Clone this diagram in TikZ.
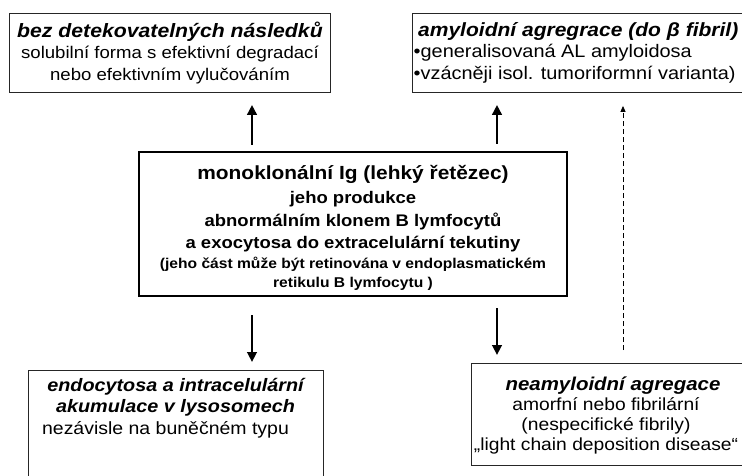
\documentclass[tikz,border=0pt]{standalone}
\usepackage{fontspec}
\setmainfont{Liberation Sans}[FakeStretch=1.1]
\usetikzlibrary{arrows.meta}
\newcommand{\ttlfont}[1]{\fontsize{#1}{20}\selectfont\bfseries\itshape}
\begin{document}
\begin{tikzpicture}[x=1pt,y=-1pt,
  box/.style={draw=black!85, line width=0.9pt, inner sep=0pt},
  arr/.style={line width=2.6pt, -{Triangle[length=10pt,width=9.5pt]}},
  dasharr/.style={line width=0.8pt, dash pattern=on 5pt off 3pt, -{Triangle[length=6pt,width=5pt]}}]
\clip (0,0) rectangle (742,475);
\useasboundingbox (0,0) rectangle (742,475);
% top left
\node[box, minimum width=321pt, minimum height=79pt, anchor=north west, align=center,
  font=\fontsize{16.9}{21.5}\selectfont] (b1) at (9,13)
  {{\ttlfont{19.3}bez detekovatelných následků}\\
   solubilní forma s efektivní degradací\\ nebo efektivním vylučováním};
% top right
\node[box, minimum width=335pt, minimum height=79pt, anchor=north west] (b2) at (412,13) {};
\node[anchor=west, align=left, inner sep=0pt, font=\fontsize{18.1}{21.5}\selectfont] (t2) at (413.5,52.5)
  {\hspace*{4.5pt}{\ttlfont{19.1}amyloidní agregrace (do β fibril)}\\
   •generalisovaná AL amyloidosa\\ •vzácněji isol. tumoriformní varianta)};
% centre
\node[draw, line width=2.8pt, minimum width=428pt, minimum height=144pt, inner sep=0pt] (mc) at (353,224) {};
\node[align=center, inner sep=0pt, font=\bfseries\fontsize{16}{19}\selectfont] (mct) at ([yshift=-4pt]mc.center)
  {{\fontsize{19}{19}\selectfont monoklonální Ig (lehký řetězec)}\\[5pt]
   {\fontsize{16.8}{19}\selectfont jeho produkce}\\[4pt]
   {\fontsize{16.8}{19}\selectfont abnormálním klonem B lymfocytů}\\[3pt]
   {\fontsize{16.8}{19}\selectfont a exocytosa do extracelulární tekutiny}\\[1.5pt]
   {\fontsize{14.2}{19}\selectfont (jeho část může být retinována v endoplasmatickém}\\
   {\fontsize{14.2}{19}\selectfont retikulu B lymfocytu )}};
% bottom left
\node[box, minimum width=295pt, minimum height=115pt, anchor=north west] (b3) at (28,370) {};
\node[align=center, inner sep=0pt, font=\fontsize{17.7}{21.5}\selectfont] (t3) at (175.5,408)
  {{\ttlfont{18}endocytosa a intracelulární}\\
   {\ttlfont{18}akumulace v lysosomech}\\
   nezávisle na buněčném typu\hspace*{20pt}};
% bottom right
\node[box, minimum width=273pt, minimum height=102pt, anchor=north west] (b4) at (471,363) {};
\node[align=center, inner sep=0pt, font=\fontsize{17.5}{20.2}\selectfont] (t4) at (606,415.5)
  {\hspace*{14pt}{\ttlfont{18.6}neamyloidní agregace}\\
   amorfní nebo fibrilární\\ (nespecifické fibrily)\\ „light chain deposition disease“};
% arrows
\draw[arr, shorten <=6pt, shorten >=12pt] (mc.north -| 252,0) -- (b1.south -| 252,0);
\draw[arr, shorten <=7pt, shorten >=12pt] (mc.north -| 497,0) -- (b2.south -| 497,0);
\draw[arr, shorten <=18pt, shorten >=8pt] (mc.south -| 252,0) -- (b3.north -| 252,0);
\draw[arr, shorten <=11pt, shorten >=8pt] (mc.south -| 497,0) -- (b4.north -| 497,0);
\draw[dasharr, shorten <=13pt, shorten >=13pt] (b4.north -| 623,0) -- (b2.south -| 623,0);
\end{tikzpicture}
\end{document}
